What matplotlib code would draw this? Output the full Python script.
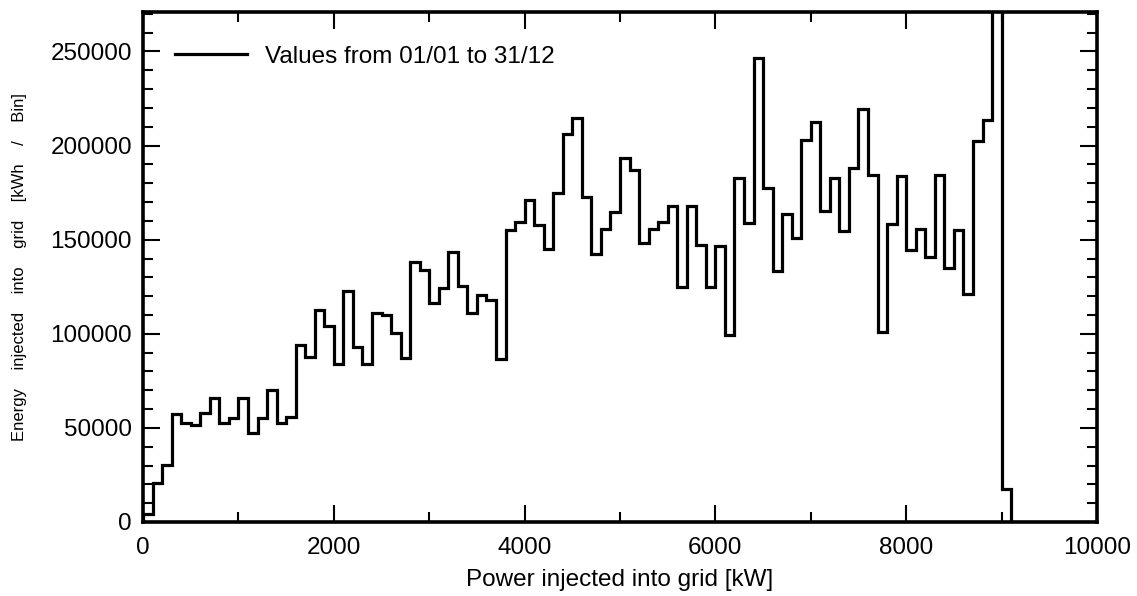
import numpy as np
import matplotlib
matplotlib.use("Agg")
import matplotlib.pyplot as plt
from matplotlib.ticker import MultipleLocator

plt.rcParams.update({"font.family": ["Liberation Sans", "DejaVu Sans"], "font.size": 17.5})

# energy per 100 kW bin, bins start at 0 kW
bin_width = 100
energy = [
    4000, 20600, 30300, 57300, 52800, 51600, 58100, 65800, 52500, 55100,
    65800, 47500, 55100, 69900, 52500, 56000, 94100, 87600, 112400, 103900,
    84000, 123000, 92900, 84000, 111300, 110100, 100300, 87300, 137900, 133700,
    116300, 124300, 143200, 125200, 111000, 120700, 117700, 86500, 154900, 159200,
    170900, 158000, 145000, 175000, 206200, 214400, 172800, 142500, 155700, 164500,
    193400, 186900, 148200, 155700, 159200, 167700, 125000, 167700, 147000, 124800,
    146400, 99500, 182800, 158900, 246600, 177500, 133100, 163700, 150900, 203200,
    212400, 165100, 182800, 154400, 188100, 219500, 184600, 101200, 158500, 183700,
    144700, 155700, 140800, 184600, 134900, 154900, 121300, 202600, 213400, 340000,
    17400,
]
edges = np.arange(len(energy) + 1) * bin_width

label = "Values from 01/01 to 31/12"
xlabel = "Power injected into grid [kW]"
ylabel = "Energy    injected    into    grid    [kWh    /    Bin]"

fig = plt.figure(figsize=(11.37, 5.96), dpi=100)
ax = fig.add_axes([0.1258, 0.1242, 0.839, 0.8557])

ax.stairs(energy, edges, baseline=0, color="black", lw=2.3, label=label)

ax.set_xlim(0, 10000)
ax.set_ylim(0, 271000)
ax.xaxis.set_major_locator(MultipleLocator(2000))
ax.xaxis.set_minor_locator(MultipleLocator(1000))
ax.yaxis.set_major_locator(MultipleLocator(50000))
ax.yaxis.set_minor_locator(MultipleLocator(10000))

ax.tick_params(which="both", direction="in", top=True, right=True, width=1.5)
ax.tick_params(which="major", length=12.5)
ax.tick_params(which="minor", length=7)
ax.tick_params(axis="x", pad=11)
ax.tick_params(axis="y", pad=8)
for sp in ax.spines.values():
    sp.set_linewidth(2.6)

ax.set_xlabel(xlabel, labelpad=7)
ax.set_ylabel(ylabel, fontsize=12)
ax.yaxis.set_label_coords(-0.122, 0.5)

ax.legend(loc="center left", bbox_to_anchor=(0.0335, 0.912), frameon=False,
          borderpad=0, borderaxespad=0, handlelength=2.95, handletextpad=0.75)

fig.savefig("out.png")
